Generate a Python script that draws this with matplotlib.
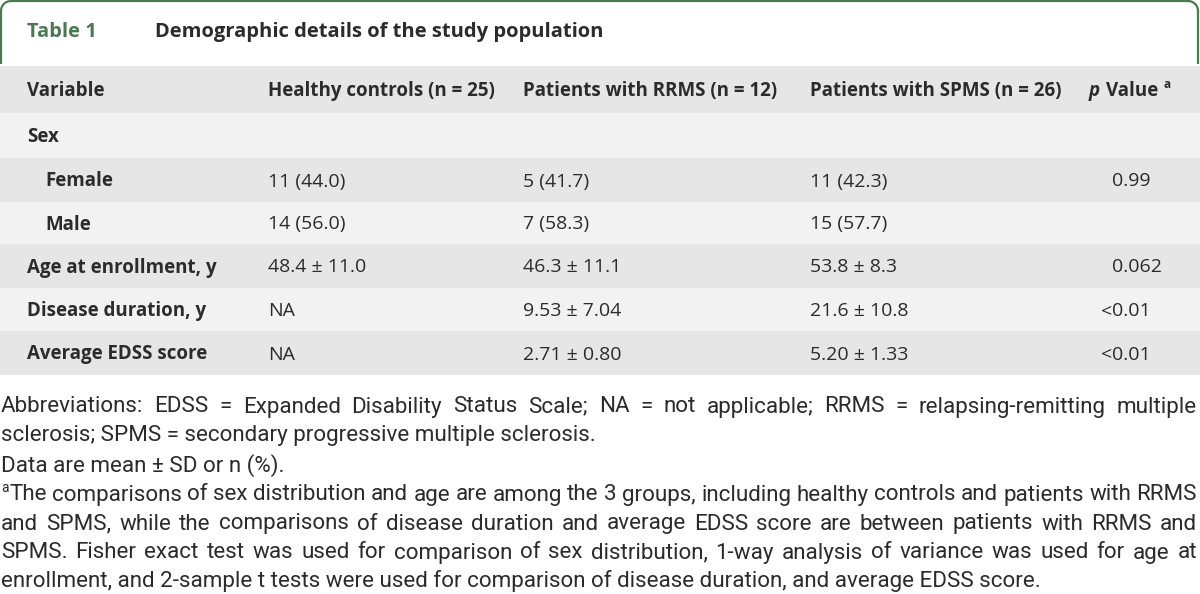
import numpy as np
import matplotlib.pyplot as plt
from matplotlib.patches import Rectangle

# ---------------- DATA ----------------
table_label = "Table 1"
table_title = "Demographic details of the study population"
col_headers = ["Variable", "Healthy controls (n = 25)", "Patients with RRMS (n = 12)",
               "Patients with SPMS (n = 26)"]
p_header = "Value"
variables = ["Sex", "Female", "Male", "Age at enrollment, y", "Disease duration, y",
             "Average EDSS score"]
indented = [False, True, True, False, False, False]
healthy = ["", "11 (44.0)", "14 (56.0)", "48.4 \u00b1 11.0", "NA", "NA"]
rrms = ["", "5 (41.7)", "7 (58.3)", "46.3 \u00b1 11.1", "9.53 \u00b1 7.04", "2.71 \u00b1 0.80"]
spms = ["", "11 (42.3)", "15 (57.7)", "53.8 \u00b1 8.3", "21.6 \u00b1 10.8", "5.20 \u00b1 1.33"]
p_values = ["", "0.99", "", "0.062", "<0.01", "<0.01"]

foot_lines = [
    ("Abbreviations: EDSS = Expanded Disability Status Scale; NA = not applicable; RRMS = relapsing-remitting multiple", True),
    ("sclerosis; SPMS = secondary progressive multiple sclerosis.", False),
    ("Data are mean \u00b1 SD or n (%).", False),
    ("The comparisons of sex distribution and age are among the 3 groups, including healthy controls and patients with RRMS", True),
    ("and SPMS, while the comparisons of disease duration and average EDSS score are between patients with RRMS and", True),
    ("SPMS. Fisher exact test was used for comparison of sex distribution, 1-way analysis of variance was used for age at", True),
    ("enrollment, and 2-sample t tests were used for comparison of disease duration, and average EDSS score.", False),
]

# ---------------- STYLE ----------------
TXT = "#2b2b2b"
GREEN = "#4b7a52"
DARK_ROW = "#e6e6e6"
LIGHT_ROW = "#f2f2f2"
TABLE_FONT = "Open Sans"
FOOT_FONT = "Roboto"
FS_BOLD = 13.5
FS = 14
FS_FOOT = 16.1
HEAD_W = 'bold'

plt.rcParams['font.family'] = TABLE_FONT

fig = plt.figure(figsize=(12, 5.94), dpi=100)
ax = fig.add_axes([0, 0, 1, 1])
ax.set_xlim(0, 1200)
ax.set_ylim(594, 0)
ax.axis('off')

# title box: green border with rounded top corners, open at the bottom
R = 10
ax.plot([1, 1], [64, R + 1], color=GREEN, lw=1.6, solid_capstyle='butt')
ax.plot([1198, 1198], [64, R + 1], color=GREEN, lw=1.6, solid_capstyle='butt')
ax.plot([R + 1, 1198 - R], [1, 1], color=GREEN, lw=1.6)
th = np.linspace(np.pi, 1.5 * np.pi, 20)
ax.plot(R + 1 + R * np.cos(th), R + 1 + R * np.sin(th), color=GREEN, lw=1.6)
th = np.linspace(1.5 * np.pi, 2 * np.pi, 20)
ax.plot(1198 - R + R * np.cos(th), R + 1 + R * np.sin(th), color=GREEN, lw=1.6)

ax.text(27, 32, table_label, color=GREEN, fontsize=14.5, fontweight=HEAD_W, va='center')
ax.text(155, 32, table_title, color=TXT, fontsize=14.5, fontweight=HEAD_W, va='center')

# row bands
row_top = [66, 113, 158, 202, 244, 288, 331]
row_bot = [113, 158, 202, 244, 288, 331, 375]
for i in range(7):
    ax.add_patch(Rectangle((0, row_top[i]), 1200, row_bot[i] - row_top[i],
                           facecolor=DARK_ROW if i % 2 == 0 else LIGHT_ROW, edgecolor='none'))

col_x = [27, 268, 523, 810]
P_X = 1112
hy = (row_top[0] + row_bot[0]) / 2 + 1.5
for x, h in zip(col_x, col_headers):
    ax.text(x, hy, h, color=TXT, fontsize=FS_BOLD, fontweight=HEAD_W, va='center')
ax.text(1089, hy, "p", color=TXT, fontsize=FS_BOLD, fontweight=HEAD_W, style='italic', va='center')
ax.text(1106, hy, p_header, color=TXT, fontsize=FS_BOLD, fontweight=HEAD_W, va='center')
ax.text(1164, hy - 7, "a", color=TXT, fontsize=8.5, fontweight=HEAD_W, va='center')

for i, var in enumerate(variables):
    y = (row_top[i + 1] + row_bot[i + 1]) / 2 + 1.5
    ax.text(45 if indented[i] else 27, y, var, color=TXT, fontsize=FS_BOLD, fontweight=HEAD_W, va='center')
    ax.text(col_x[1], y, healthy[i], color=TXT, fontsize=FS, va='center')
    ax.text(col_x[2], y, rrms[i], color=TXT, fontsize=FS, va='center')
    ax.text(col_x[3], y, spms[i], color=TXT, fontsize=FS, va='center')
    pv = p_values[i]
    if pv.startswith("<"):
        ax.text(P_X, y, "<", color=TXT, fontsize=FS, va='center', ha='right')
        pv = pv[1:]
    ax.text(P_X, y, pv, color=TXT, fontsize=FS, va='center')

# footnotes, justified like the journal layout
renderer = fig.canvas.get_renderer()
LEFT, RIGHT = 1, 1197
foot_y = [407, 436, 466, 495, 524, 553, 581]
for k, (line, justify) in enumerate(foot_lines):
    y = foot_y[k]
    x0 = LEFT
    if k == 3:
        ax.text(LEFT, y - 7, "a", color=TXT, fontsize=10, va='center', family=FOOT_FONT)
        x0 = LEFT + 8
    if not justify:
        ax.text(x0, y, line, color=TXT, fontsize=FS_FOOT, va='center', family=FOOT_FONT)
        continue
    words = line.split(" ")
    texts = [ax.text(0, y, w, color=TXT, fontsize=FS_FOOT, va='center', family=FOOT_FONT)
             for w in words]
    widths = [t.get_window_extent(renderer).width for t in texts]
    gap = (RIGHT - x0 - sum(widths)) / (len(words) - 1)
    x = x0
    for t, w in zip(texts, widths):
        t.set_x(x)
        x += w + gap

fig.savefig("out.png", dpi=100)
